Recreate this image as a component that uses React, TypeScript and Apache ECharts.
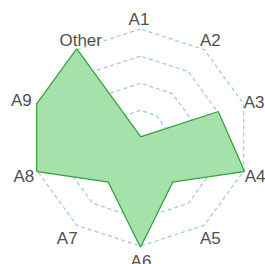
import React, { useEffect, useRef } from "react";
import * as echarts from "echarts";

// Indicators listed counter-clockwise from the top (ECharts draws counter-clockwise)
const indicatorNames = ["A1", "Other", "A9", "A8", "A7", "A6", "A5", "A4", "A3", "A2"];
const seriesValues = [0, 100, 100, 100, 50, 100, 50, 100, 75, 0];
const maxValue = 100;

// label nudges (dx, dy) relative to the outer ring vertex
const labelShift: Record<string, [number, number]> = {
  A1: [-1.5, -10],
  A2: [6, -9.5],
  A3: [10.5, -1.5],
  A4: [11.5, 5],
  A5: [6, 13],
  A6: [0.5, 15],
  A7: [-9.5, 13],
  A8: [-13.5, 5.5],
  A9: [-16, -3],
  Other: [4, -9.5],
};

export default function App() {
  const ref = useRef<HTMLDivElement>(null);
  useEffect(() => {
    document.body.style.margin = "0";
    const chart = echarts.init(ref.current!, null, { renderer: "svg" });
    const rich: Record<string, any> = {};
    indicatorNames.forEach((n, i) => {
      const [dx, dy] = labelShift[n];
      rich["t" + i] = {
        color: "#505050",
        fontSize: 17,
        fontFamily: "Liberation Sans, Arial, sans-serif",
        padding: [Math.max(0, 2 * dy), Math.max(0, -2 * dx), Math.max(0, -2 * dy), Math.max(0, 2 * dx)],
      };
    });
    chart.setOption({
      animation: false,
      radar: {
        center: [140.5, 137.5],
        radius: 108.5,
        startAngle: 90,
        splitNumber: 4,
        shape: "polygon",
        nameGap: 0,
        axisName: {
          color: "#505050",
          fontSize: 17,
          fontFamily: "Liberation Sans, Arial, sans-serif",
          align: "center",
          verticalAlign: "middle",
          formatter: (name: string) => "{t" + indicatorNames.indexOf(name) + "|" + name + "}",
          rich,
        },
        axisLine: { show: false },
        axisTick: { show: false },
        axisLabel: { show: false },
        splitArea: { show: false },
        splitLine: {
          lineStyle: { color: "#9cc8e0", type: [4, 3], width: 1.2 },
        },
        indicator: indicatorNames.map((name) => ({ name, max: maxValue, min: 0 })),
      },
      series: [
        {
          type: "radar",
          symbol: "none",
          data: [
            {
              value: seriesValues,
              lineStyle: { color: "#33a03c", width: 2.5 },
              areaStyle: { color: "#a5e2ab", opacity: 1 },
            },
          ],
        },
      ],
    });
    return () => chart.dispose();
  }, []);
  return <div ref={ref} style={{ width: 265, height: 264 }} />;
}
